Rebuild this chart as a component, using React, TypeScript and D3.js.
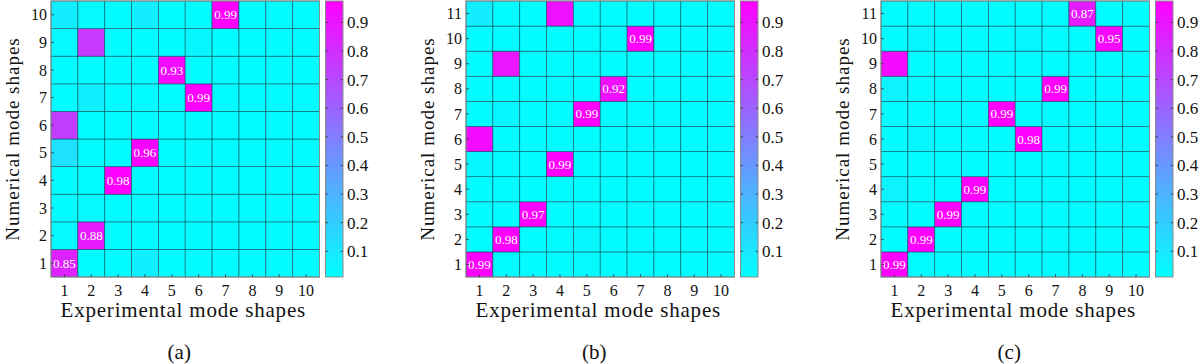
import * as d3 from "d3"

// MAC matrices: rows = numerical mode 1..N, columns = experimental mode 1..10
const macA = [
    [0.85, 0.02, 0.02, 0.07, 0.02, 0.02, 0.02, 0.02, 0.02, 0.02],
    [0.03, 0.88, 0.02, 0.02, 0.02, 0.02, 0.02, 0.02, 0.02, 0.02],
    [0.02, 0.03, 0.02, 0.02, 0.02, 0.02, 0.02, 0.02, 0.02, 0.02],
    [0.02, 0.02, 0.98, 0.02, 0.02, 0.02, 0.02, 0.02, 0.02, 0.02],
    [0.12, 0.02, 0.02, 0.96, 0.02, 0.02, 0.02, 0.02, 0.02, 0.02],
    [0.74, 0.02, 0.02, 0.02, 0.02, 0.02, 0.02, 0.02, 0.02, 0.02],
    [0.02, 0.07, 0.02, 0.02, 0.02, 0.99, 0.02, 0.02, 0.02, 0.02],
    [0.02, 0.02, 0.02, 0.02, 0.93, 0.02, 0.02, 0.02, 0.02, 0.02],
    [0.03, 0.76, 0.02, 0.02, 0.02, 0.04, 0.02, 0.02, 0.02, 0.02],
    [0.08, 0.03, 0.02, 0.08, 0.02, 0.02, 0.99, 0.02, 0.02, 0.02],
]
const macB = [
    [0.99, 0.02, 0.02, 0.02, 0.03, 0.02, 0.02, 0.02, 0.02, 0.02],
    [0.02, 0.98, 0.02, 0.02, 0.04, 0.02, 0.02, 0.02, 0.02, 0.02],
    [0.02, 0.02, 0.97, 0.02, 0.02, 0.02, 0.02, 0.02, 0.02, 0.02],
    [0.02, 0.02, 0.02, 0.02, 0.02, 0.02, 0.02, 0.02, 0.02, 0.02],
    [0.04, 0.02, 0.02, 0.99, 0.02, 0.02, 0.02, 0.02, 0.02, 0.02],
    [0.93, 0.02, 0.02, 0.02, 0.02, 0.02, 0.02, 0.02, 0.02, 0.02],
    [0.02, 0.04, 0.02, 0.02, 0.99, 0.02, 0.02, 0.02, 0.02, 0.02],
    [0.02, 0.02, 0.02, 0.02, 0.02, 0.92, 0.02, 0.02, 0.02, 0.02],
    [0.02, 0.89, 0.02, 0.02, 0.02, 0.02, 0.02, 0.02, 0.02, 0.02],
    [0.02, 0.02, 0.02, 0.02, 0.02, 0.02, 0.99, 0.02, 0.02, 0.02],
    [0.08, 0.02, 0.02, 0.91, 0.02, 0.02, 0.02, 0.02, 0.02, 0.02],
]
const macC = [
    [0.99, 0.02, 0.02, 0.02, 0.02, 0.02, 0.02, 0.02, 0.02, 0.02],
    [0.02, 0.99, 0.02, 0.02, 0.02, 0.02, 0.02, 0.02, 0.02, 0.02],
    [0.02, 0.02, 0.99, 0.02, 0.02, 0.02, 0.02, 0.02, 0.02, 0.02],
    [0.06, 0.02, 0.02, 0.99, 0.02, 0.02, 0.02, 0.02, 0.02, 0.02],
    [0.02, 0.02, 0.02, 0.02, 0.02, 0.02, 0.02, 0.02, 0.02, 0.02],
    [0.02, 0.04, 0.02, 0.02, 0.02, 0.98, 0.02, 0.02, 0.02, 0.02],
    [0.02, 0.02, 0.02, 0.02, 0.99, 0.02, 0.02, 0.02, 0.02, 0.02],
    [0.06, 0.02, 0.02, 0.02, 0.02, 0.02, 0.99, 0.02, 0.02, 0.02],
    [0.93, 0.02, 0.02, 0.02, 0.02, 0.02, 0.02, 0.02, 0.02, 0.02],
    [0.02, 0.04, 0.02, 0.02, 0.02, 0.04, 0.02, 0.02, 0.95, 0.02],
    [0.02, 0.02, 0.02, 0.02, 0.02, 0.02, 0.02, 0.87, 0.02, 0.02],
]

// paired modes [experimental, numerical] that get a value label
const pairsA = [[1, 1], [2, 2], [3, 4], [4, 5], [6, 7], [5, 8], [7, 10]]
const pairsB = [[1, 1], [2, 2], [3, 3], [4, 5], [5, 7], [6, 8], [7, 10]]
const pairsC = [[1, 1], [2, 2], [3, 3], [4, 4], [6, 6], [5, 7], [7, 8], [9, 10], [8, 11]]

const colorbarTicks = [0.1, 0.2, 0.3, 0.4, 0.5, 0.6, 0.7, 0.8, 0.9]
const captions = ["(a)", "(b)", "(c)"]
const xTitle = "Experimental mode shapes"
const yTitle = "Numerical mode shapes"

const FONT = "'Liberation Serif', 'Times New Roman', serif"
const TOP = 1
const BOTTOM = 277
const MAP_W = 268.5
const CB_GAP = 6
const CB_W = 17.5
const CMIN = 0.01
const CMAX = 0.975

const color = d3
    .scaleLinear<string>()
    .domain([CMIN, CMAX])
    .range(["#00ffff", "#ff00ff"])
    .interpolate(d3.interpolateRgb)
    .clamp(true)

function MacPanel({ left, mac, pairs, caption, id }: { left: number; mac: number[][]; pairs: number[][]; caption: string; id: string }) {
    const nx = mac[0].length
    const ny = mac.length
    const xs = d3.range(1, nx + 1)
    const ys = d3.range(1, ny + 1)
    const x = d3.scaleBand<number>().domain(xs).range([left, left + MAP_W])
    const y = d3.scaleBand<number>().domain(ys).range([BOTTOM, TOP])
    const cbX = left + MAP_W + CB_GAP
    const cb = d3.scaleLinear().domain([CMIN, CMAX]).range([BOTTOM, TOP])
    const gradStops = d3.range(0, 1.0001, 0.1)

    return (
        <g>
            <defs>
                <linearGradient id={`cb-${id}`} x1="0" y1="1" x2="0" y2="0">
                    {gradStops.map((t) => (
                        <stop key={t} offset={t} stopColor={color(CMIN + t * (CMAX - CMIN))} />
                    ))}
                </linearGradient>
            </defs>
            {ys.map((j) =>
                xs.map((i) => (
                    <rect
                        key={`${i}-${j}`}
                        x={x(i)}
                        y={y(j)}
                        width={x.bandwidth()}
                        height={y.bandwidth()}
                        fill={color(mac[j - 1][i - 1])}
                        stroke="rgba(0,60,60,0.6)"
                        strokeWidth={0.8}
                    />
                ))
            )}
            {pairs.map(([i, j]) => (
                <text
                    key={`l-${i}-${j}`}
                    x={x(i)! + x.bandwidth() / 2}
                    y={y(j)! + y.bandwidth() / 2}
                    dy="0.35em"
                    textAnchor="middle"
                    fill="#fff"
                    fontFamily={FONT}
                    fontSize={13}
                >
                    {d3.format(".2f")(mac[j - 1][i - 1])}
                </text>
            ))}
            <rect x={left} y={TOP} width={MAP_W} height={BOTTOM - TOP} fill="none" stroke="#8a8a8a" strokeWidth={1} />
            {/* inward ticks */}
            {xs.map((i) => (
                <line key={`xt${i}`} x1={x(i)! + x.bandwidth() / 2} x2={x(i)! + x.bandwidth() / 2} y1={BOTTOM} y2={BOTTOM - 3} stroke="#333" strokeWidth={0.8} />
            ))}
            {ys.map((j) => (
                <line key={`yt${j}`} x1={left} x2={left + 3} y1={y(j)! + y.bandwidth() / 2} y2={y(j)! + y.bandwidth() / 2} stroke="#333" strokeWidth={0.8} />
            ))}
            {xs.map((i) => (
                <text key={`xl${i}`} x={x(i)! + x.bandwidth() / 2} y={295.5} textAnchor="middle" fontFamily={FONT} fontSize={16} fill="#111">
                    {i}
                </text>
            ))}
            {ys.map((j) => (
                <text key={`yl${j}`} x={left - 4} y={y(j)! + y.bandwidth() / 2} dy="0.35em" textAnchor="end" fontFamily={FONT} fontSize={16} fill="#111">
                    {j}
                </text>
            ))}
            <text x={left + MAP_W / 2 - 2} y={316.5} textAnchor="middle" fontFamily={FONT} fontSize={21} letterSpacing={0.8} fill="#111">
                {xTitle}
            </text>
            <text transform={`translate(${left - 32},${(TOP + BOTTOM) / 2}) rotate(-90)`} textAnchor="middle" fontFamily={FONT} fontSize={19} letterSpacing={1} fill="#111">
                {yTitle}
            </text>
            {/* colorbar */}
            <rect x={cbX} y={TOP} width={CB_W} height={BOTTOM - TOP} fill={`url(#cb-${id})`} stroke="#8a8a8a" strokeWidth={1} />
            {colorbarTicks.map((t) => (
                <g key={`cb${t}`}>
                    <line x1={cbX} x2={cbX + 2.5} y1={cb(t)} y2={cb(t)} stroke="#333" strokeWidth={0.8} />
                    <line x1={cbX + CB_W - 2.5} x2={cbX + CB_W} y1={cb(t)} y2={cb(t)} stroke="#333" strokeWidth={0.8} />
                    <text x={cbX + CB_W + 4} y={cb(t)} dy="0.35em" fontFamily={FONT} fontSize={17} fill="#111">
                        {t.toFixed(1)}
                    </text>
                </g>
            ))}
            <text x={left + MAP_W / 2 - 6} y={359} textAnchor="middle" fontFamily={FONT} fontSize={21} fill="#111">
                {caption}
            </text>
        </g>
    )
}

export default function App() {
    return (
        <svg width={1200} height={364} style={{ position: "absolute", left: 0, top: 0, background: "#fff" }}>
            <MacPanel id="a" left={51} mac={macA} pairs={pairsA} caption={captions[0]} />
            <MacPanel id="b" left={466} mac={macB} pairs={pairsB} caption={captions[1]} />
            <MacPanel id="c" left={881} mac={macC} pairs={pairsC} caption={captions[2]} />
        </svg>
    )
}
